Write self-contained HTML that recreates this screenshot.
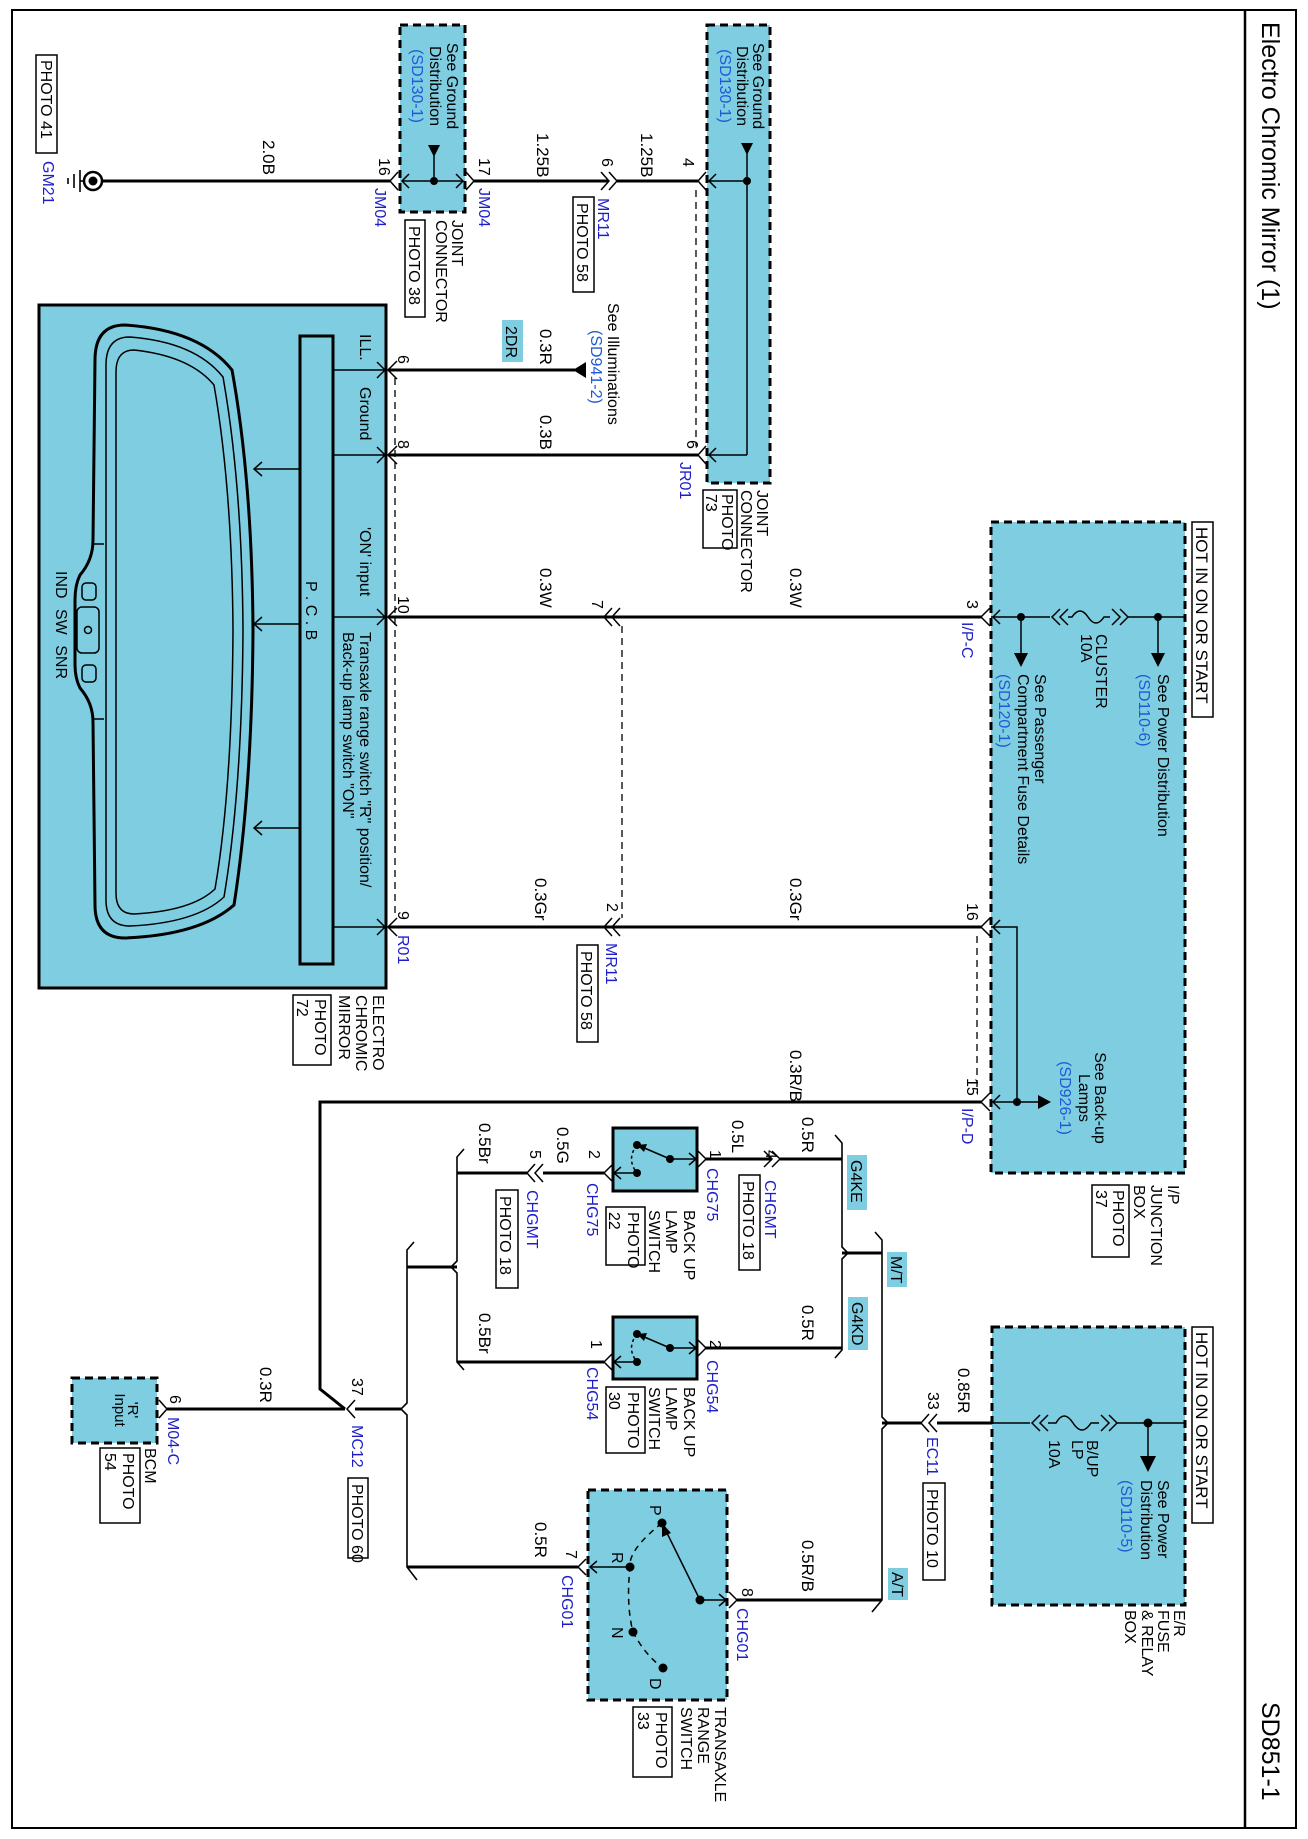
<!DOCTYPE html>
<html><head><meta charset="utf-8"><style>
html,body{margin:0;padding:0;background:#fff}
svg{display:block}
text{font-family:"Liberation Sans",Arial,sans-serif;font-size:17px;fill:#000}
.b{fill:#1e1ec8;font-size:16px}
.s{font-size:16px}
.sb{fill:#1e5ad8;font-size:16px}
.w{stroke:#000;stroke-width:3;fill:none}
.t{stroke:#000;stroke-width:1.6;fill:none}
.c{stroke:#000;stroke-width:1.5;fill:none}
.box{fill:#7fcde1;stroke:#000;stroke-width:3;stroke-dasharray:8 5}
.sbox{fill:#7fcde1;stroke:#000;stroke-width:3}
.lb{fill:none;stroke:#000;stroke-width:1.5}
.tag{fill:#7fcde1}
.d{stroke:#000;stroke-width:1.3;fill:none;stroke-dasharray:7 5}
</style></head><body>
<svg width="1308" height="1839" viewBox="0 0 1308 1839" xmlns="http://www.w3.org/2000/svg">
<rect x="12" y="10" width="1284" height="1818" fill="none" stroke="#000" stroke-width="2"/>
<line x1="1245" y1="10" x2="1245" y2="1828" stroke="#000" stroke-width="2.5"/>
<text transform="translate(1262 22) rotate(90)" style="font-size:25px">Electro Chromic Mirror (1)</text>
<text transform="translate(1262 1702) rotate(90)" style="font-size:25px">SD851-1</text>

<rect x="36" y="55" width="21" height="98" class="lb"/>
<text transform="translate(41 60) rotate(90)" class="s">PHOTO 41</text>
<text transform="translate(43 161) rotate(90)" class="b">GM21</text>
<circle cx="93" cy="181" r="9" fill="#fff" stroke="#000" stroke-width="2.5"/>
<circle cx="93" cy="181" r="4.5" fill="#000"/>
<line x1="84" y1="181" x2="80" y2="181" class="t"/>
<line x1="80" y1="170" x2="80" y2="192" class="t"/>
<line x1="74" y1="174" x2="74" y2="188" class="t"/>
<line x1="68" y1="178" x2="68" y2="184" class="t"/>
<line x1="102" y1="181" x2="390" y2="181" class="w"/>
<text transform="translate(263 140) rotate(90)">2.0B</text>
<text transform="translate(379 158) rotate(90)" class="s">16</text>
<text transform="translate(375 188) rotate(90)" class="b">JM04</text>

<rect x="400" y="25" width="65" height="187" class="box"/>
<text transform="translate(447 86) rotate(90)" class="s" text-anchor="middle">See Ground</text>
<text transform="translate(430 86) rotate(90)" class="s" text-anchor="middle">Distribution</text>
<text transform="translate(412 86) rotate(90)" class="sb" text-anchor="middle">(SD130-1)</text>
<polygon points="428,145 440,145 434,157" fill="#000"/>
<line x1="434" y1="155" x2="434" y2="181" class="c"/>
<circle cx="434" cy="181" r="4" fill="#000"/>
<line x1="402" y1="181" x2="463" y2="181" class="c"/>
<polyline points="409,174 402,181 409,188" class="c"/>
<polyline points="456,174 463,181 456,188" class="c"/>
<polyline points="398,172 390,181 398,190" class="c"/>
<polyline points="466,172 474,181 466,190" class="c"/>
<text transform="translate(479 158) rotate(90)" class="s">17</text>
<text transform="translate(479 188) rotate(90)" class="b">JM04</text>
<text transform="translate(452 220) rotate(90)" class="s">JOINT</text>
<text transform="translate(436 220) rotate(90)" class="s">CONNECTOR</text>
<rect x="405" y="220" width="20" height="97" class="lb"/>
<text transform="translate(409 226) rotate(90)" class="s">PHOTO 38</text>

<line x1="474" y1="181" x2="608" y2="181" class="w"/>
<text transform="translate(537 133) rotate(90)">1.25B</text>
<polyline points="601,172 609,181 601,190" class="c"/>
<polyline points="609,172 617,181 609,190" class="c"/>
<text transform="translate(602 158) rotate(90)" class="s">6</text>
<text transform="translate(598 198) rotate(90)" class="b">MR11</text>
<rect x="573" y="197" width="21" height="95" class="lb"/>
<text transform="translate(577 203) rotate(90)" class="s">PHOTO 58</text>
<line x1="617" y1="181" x2="698" y2="181" class="w"/>
<text transform="translate(641 133) rotate(90)">1.25B</text>
<text transform="translate(683 158) rotate(90)" class="s">4</text>

<rect x="707" y="25" width="63" height="458" class="box"/>
<text transform="translate(753 86) rotate(90)" class="s" text-anchor="middle">See Ground</text>
<text transform="translate(737 86) rotate(90)" class="s" text-anchor="middle">Distribution</text>
<text transform="translate(720 86) rotate(90)" class="sb" text-anchor="middle">(SD130-1)</text>
<polygon points="741,143 753,143 747,155" fill="#000"/>
<line x1="747" y1="153" x2="747" y2="455" class="c"/>
<circle cx="747" cy="181" r="4" fill="#000"/>
<line x1="709" y1="181" x2="747" y2="181" class="c"/>
<line x1="709" y1="455" x2="747" y2="455" class="c"/>
<polyline points="716,174 709,181 716,188" class="c"/>
<polyline points="716,448 709,455 716,462" class="c"/>
<polyline points="706,172 698,181 706,190" class="c"/>
<polyline points="706,446 698,455 706,464" class="c"/>
<line x1="696" y1="190" x2="696" y2="446" class="d"/>
<text transform="translate(687 440) rotate(90)" class="s">6</text>
<text transform="translate(680 462) rotate(90)" class="b">JR01</text>
<text transform="translate(757 490) rotate(90)" class="s">JOINT</text>
<text transform="translate(741 490) rotate(90)" class="s">CONNECTOR</text>
<rect x="703" y="490" width="34" height="58" class="lb"/>
<text transform="translate(722 494) rotate(90)" class="s">PHOTO</text>
<text transform="translate(706 494) rotate(90)" class="s">73</text>

<rect x="39" y="305" width="347" height="683" class="sbox"/>
<rect x="300" y="336" width="33" height="628" fill="#7fcde1" stroke="#000" stroke-width="3"/>
<text transform="translate(306 581) rotate(90)" class="s">P . C . B</text>
<path d="M125 325 Q95 325 95 360 L93 540 Q93 560 80 575 Q75 585 75 600 L75 665 Q75 678 80 688 Q93 703 93 722 L95 905 Q95 938 125 938 Q200 935 234 905 Q252 790 253 630 Q252 480 232 370 Q200 330 125 325 Z" fill="none" stroke="#000" stroke-width="3"/>
<path d="M130 337 Q106 337 106 365 L106 900 Q106 926 130 926 Q196 923 224 897 Q242 790 243 630 Q242 484 223 377 Q195 342 130 337 Z" class="c"/>
<path d="M134 350 Q116 350 116 372 L116 893 Q116 914 134 914 Q192 911 215 889 Q232 790 233 630 Q232 488 214 385 Q190 356 134 350 Z" class="c"/>
<line x1="93" y1="544" x2="104" y2="544" class="c"/>
<line x1="93" y1="719" x2="104" y2="719" class="c"/>
<rect x="82" y="583" width="14" height="17" rx="4" class="c"/>
<rect x="77" y="607" width="22" height="46" rx="5" class="c"/>
<circle cx="88" cy="630" r="3.5" class="c"/>
<rect x="82" y="665" width="14" height="17" rx="4" class="c"/>
<text transform="translate(56 571) rotate(90)" class="s" style="word-spacing:6px">IND SW SNR</text>
<line x1="300" y1="469" x2="254" y2="469" class="c"/><polyline points="262,462 254,469 262,476" class="c"/>
<line x1="300" y1="624" x2="254" y2="624" class="c"/><polyline points="262,617 254,624 262,631" class="c"/>
<line x1="300" y1="828" x2="254" y2="828" class="c"/><polyline points="262,821 254,828 262,835" class="c"/>
<g class="c">
<line x1="333" y1="370" x2="385" y2="370"/><polyline points="377,362 385,370 377,378"/>
<line x1="333" y1="455" x2="385" y2="455"/><polyline points="377,447 385,455 377,463"/>
<line x1="333" y1="617" x2="385" y2="617"/><polyline points="377,609 385,617 377,625"/>
<line x1="333" y1="927" x2="385" y2="927"/><polyline points="377,919 385,927 377,935"/>
<polyline points="397,361 388,370 397,379"/>
<polyline points="397,446 388,455 397,464"/>
<polyline points="397,608 388,617 397,626"/>
<polyline points="397,918 388,927 397,936"/>
</g>
<line x1="395" y1="378" x2="395" y2="918" class="d"/>
<text transform="translate(360 334) rotate(90)" class="s">ILL.</text>
<text transform="translate(360 387) rotate(90)" class="s">Ground</text>
<text transform="translate(360 527) rotate(90)" class="s">'ON' input</text>
<text transform="translate(360 632) rotate(90)" class="s">Transaxle range switch "R" position/</text>
<text transform="translate(343 632) rotate(90)" class="s">Back-up lamp switch "ON"</text>
<text transform="translate(373 995) rotate(90)" class="s">ELECTRO</text>
<text transform="translate(356 995) rotate(90)" class="s">CHROMIC</text>
<text transform="translate(339 995) rotate(90)" class="s">MIRROR</text>
<rect x="293" y="995" width="38" height="70" class="lb"/>
<text transform="translate(315 999) rotate(90)" class="s">PHOTO</text>
<text transform="translate(297 999) rotate(90)" class="s">72</text>

<text transform="translate(398 355) rotate(90)" class="s">6</text>
<text transform="translate(398 440) rotate(90)" class="s">8</text>
<text transform="translate(398 596) rotate(90)" class="s">10</text>
<text transform="translate(398 911) rotate(90)" class="s">9</text>
<text transform="translate(398 935) rotate(90)" class="b">R01</text>

<line x1="388" y1="370" x2="575" y2="370" class="w"/>
<polygon points="573,370 586,362 586,378" fill="#000"/>
<rect x="502" y="320" width="21" height="42" class="tag"/>
<text transform="translate(506 326) rotate(90)" class="s">2DR</text>
<text transform="translate(540 329) rotate(90)">0.3R</text>
<text transform="translate(608 303) rotate(90)" class="s">See Illuminations</text>
<text transform="translate(591 330) rotate(90)" class="sb">(SD941-2)</text>

<line x1="388" y1="455" x2="698" y2="455" class="w"/>
<text transform="translate(540 415) rotate(90)">0.3B</text>

<line x1="388" y1="617" x2="982" y2="617" class="w"/>
<text transform="translate(540 568) rotate(90)">0.3W</text>
<text transform="translate(790 568) rotate(90)">0.3W</text>
<polyline points="612,608 604,617 612,626" class="c" stroke-width="2"/>
<polyline points="620,608 612,617 620,626" class="c" stroke-width="2"/>
<text transform="translate(592 600) rotate(90)" class="s">7</text>
<line x1="622" y1="626" x2="622" y2="918" class="d"/>

<line x1="388" y1="927" x2="982" y2="927" class="w"/>
<text transform="translate(535 878) rotate(90)">0.3Gr</text>
<text transform="translate(790 878) rotate(90)">0.3Gr</text>
<polyline points="612,918 604,927 612,936" class="c" stroke-width="2"/>
<polyline points="620,918 612,927 620,936" class="c" stroke-width="2"/>
<text transform="translate(607 903) rotate(90)" class="s">2</text>
<text transform="translate(606 943) rotate(90)" class="b">MR11</text>
<rect x="577" y="945" width="21" height="97" class="lb"/>
<text transform="translate(581 951) rotate(90)" class="s">PHOTO 58</text>

<polyline points="982,1102 320,1102 320,1389 345,1409" class="w"/>
<text transform="translate(790 1050) rotate(90)">0.3R/B</text>

<rect x="991" y="522" width="194" height="651" class="box"/>
<rect x="1192" y="522" width="21" height="195" class="lb"/>
<text transform="translate(1196 527) rotate(90)">HOT IN ON OR START</text>
<g class="c">
<polyline points="991,617 1021,617 1021,655"/>
<polyline points="1000,610 993,617 1000,624"/>
<line x1="1021" y1="617" x2="1050" y2="617"/>
<polyline points="1060,609 1052,617 1060,625"/><polyline points="1068,609 1060,617 1068,625"/>
<path d="M1068 617 L1072 617 Q1080 605 1088 617 Q1096 629 1104 617 L1110 617"/>
<polyline points="1112,609 1120,617 1112,625"/><polyline points="1120,609 1128,617 1120,625"/>
<line x1="1128" y1="617" x2="1185" y2="617"/>
<line x1="1158" y1="617" x2="1158" y2="655"/>
</g>
<circle cx="1021" cy="617" r="4" fill="#000"/>
<circle cx="1158" cy="617" r="4" fill="#000"/>
<polygon points="1014,653 1028,653 1021,667" fill="#000"/>
<polygon points="1151,653 1165,653 1158,667" fill="#000"/>
<text transform="translate(1096 634) rotate(90)" class="s">CLUSTER</text>
<text transform="translate(1081 634) rotate(90)" class="s">10A</text>
<text transform="translate(1158 674) rotate(90)" class="s">See Power Distribution</text>
<text transform="translate(1139 674) rotate(90)" class="sb">(SD110-6)</text>
<text transform="translate(1035 674) rotate(90)" class="s">See Passenger</text>
<text transform="translate(1018 674) rotate(90)" class="s">Compartment Fuse Details</text>
<text transform="translate(999 674) rotate(90)" class="sb">(SD120-1)</text>
<polyline points="990,608 981,617 990,626" class="c"/>
<text transform="translate(967 600) rotate(90)" class="s">3</text>
<text transform="translate(962 622) rotate(90)" class="b">I/P-C</text>
<g class="c">
<polyline points="991,927 1017,927 1017,1102"/>
<polyline points="1000,920 993,927 1000,934"/>
<line x1="991" y1="1102" x2="1040" y2="1102"/>
<polyline points="1000,1095 993,1102 1000,1109"/>
<polyline points="990,918 981,927 990,936"/>
<polyline points="990,1093 981,1102 990,1111"/>
</g>
<circle cx="1017" cy="1102" r="4" fill="#000"/>
<polygon points="1038,1095 1038,1109 1051,1102" fill="#000"/>
<line x1="977" y1="936" x2="977" y2="1093" class="d"/>
<text transform="translate(967 903) rotate(90)" class="s">16</text>
<text transform="translate(967 1078) rotate(90)" class="s">15</text>
<text transform="translate(962 1108) rotate(90)" class="b">I/P-D</text>
<text transform="translate(1095 1098) rotate(90)" class="s" text-anchor="middle">See Back-up</text>
<text transform="translate(1079 1098) rotate(90)" class="s" text-anchor="middle">Lamps</text>
<text transform="translate(1060 1098) rotate(90)" class="sb" text-anchor="middle">(SD926-1)</text>
<text transform="translate(1168 1185) rotate(90)" class="s">I/P</text>
<text transform="translate(1151 1185) rotate(90)" class="s">JUNCTION</text>
<text transform="translate(1134 1185) rotate(90)" class="s">BOX</text>
<rect x="1092" y="1185" width="37" height="72" class="lb"/>
<text transform="translate(1113 1190) rotate(90)" class="s">PHOTO</text>
<text transform="translate(1096 1190) rotate(90)" class="s">37</text>

<rect x="992" y="1327" width="193" height="278" class="box"/>
<rect x="1192" y="1327" width="21" height="196" class="lb"/>
<text transform="translate(1196 1332) rotate(90)">HOT IN ON OR START</text>
<g class="c">
<line x1="992" y1="1423" x2="1030" y2="1423"/>
<polyline points="1040,1415 1032,1423 1040,1431"/><polyline points="1048,1415 1040,1423 1048,1431"/>
<path d="M1048 1423 L1056 1423 Q1064 1409 1073 1423 Q1082 1437 1091 1423 L1099 1423"/>
<polyline points="1101,1415 1109,1423 1101,1431"/><polyline points="1109,1415 1117,1423 1109,1431"/>
<line x1="1117" y1="1423" x2="1185" y2="1423"/>
<line x1="1148" y1="1423" x2="1148" y2="1458"/>
</g>
<circle cx="1148" cy="1423" r="4.5" fill="#000"/>
<polygon points="1140,1456 1156,1456 1148,1472" fill="#000"/>
<text transform="translate(1087 1440) rotate(90)" class="s">B/UP</text>
<text transform="translate(1072 1440) rotate(90)" class="s">LP</text>
<text transform="translate(1049 1440) rotate(90)" class="s">10A</text>
<text transform="translate(1158 1480) rotate(90)" class="s">See Power</text>
<text transform="translate(1141 1480) rotate(90)" class="s">Distribution</text>
<text transform="translate(1121 1480) rotate(90)" class="sb">(SD110-5)</text>
<text transform="translate(1174 1610) rotate(90)" class="s">E/R</text>
<text transform="translate(1158 1610) rotate(90)" class="s">FUSE</text>
<text transform="translate(1142 1610) rotate(90)" class="s">&amp; RELAY</text>
<text transform="translate(1125 1610) rotate(90)" class="s">BOX</text>
<line x1="937" y1="1423" x2="992" y2="1423" class="w"/>
<polyline points="929,1414 921,1423 929,1432" class="c" stroke-width="2"/>
<polyline points="937,1414 929,1423 937,1432" class="c" stroke-width="2"/>
<line x1="882" y1="1423" x2="921" y2="1423" class="w"/>
<text transform="translate(958 1368) rotate(90)">0.85R</text>
<text transform="translate(928 1392) rotate(90)" class="s">33</text>
<text transform="translate(927 1437) rotate(90)" class="b">EC11</text>
<rect x="923" y="1483" width="22" height="97" class="lb"/>
<text transform="translate(927 1489) rotate(90)" class="s">PHOTO 10</text>

<g class="t">
<polyline points="835,1135 842,1143 842,1247 848,1253 842,1259 842,1350 835,1358"/>
<polyline points="875,1232 882,1240 882,1417 888,1423 882,1429 882,1600 872,1612"/>
<polyline points="464,1149 457,1157 457,1261 451,1267 457,1273 457,1362 464,1370"/>
<polyline points="414,1242 407,1250 407,1403 401,1409 407,1415 407,1567 417,1580"/>
</g>
<line x1="842" y1="1253" x2="882" y2="1253" class="w"/>
<line x1="407" y1="1267" x2="457" y2="1267" class="w"/>
<rect x="847" y="1155" width="20" height="55" class="tag"/>
<text transform="translate(851 1160) rotate(90)" class="s">G4KE</text>
<rect x="887" y="1252" width="20" height="35" class="tag"/>
<text transform="translate(891 1256) rotate(90)" class="s">M/T</text>
<rect x="848" y="1297" width="20" height="53" class="tag"/>
<text transform="translate(852 1302) rotate(90)" class="s">G4KD</text>
<rect x="888" y="1568" width="20" height="32" class="tag"/>
<text transform="translate(892 1572) rotate(90)" class="s">A/T</text>

<line x1="780" y1="1159" x2="842" y2="1159" class="w"/>
<text transform="translate(802 1117) rotate(90)">0.5R</text>
<polyline points="764,1151 772,1159 764,1167" class="c" stroke-width="2"/>
<polyline points="772,1151 780,1159 772,1167" class="c" stroke-width="2"/>
<line x1="705" y1="1159" x2="772" y2="1159" class="w"/>
<text transform="translate(732 1120) rotate(90)">0.5L</text>
<text transform="translate(766 1150) rotate(90)" class="s">4</text>
<text transform="translate(765 1180) rotate(90)" class="b">CHGMT</text>
<rect x="739" y="1175" width="21" height="95" class="lb"/>
<text transform="translate(743 1181) rotate(90)" class="s">PHOTO 18</text>
<text transform="translate(710 1150) rotate(90)" class="s">1</text>
<text transform="translate(707 1168) rotate(90)" class="b">CHG75</text>
<rect x="613" y="1128" width="84" height="63" class="sbox"/>
<g class="c">
<line x1="670" y1="1159" x2="696" y2="1159"/><polyline points="689,1153 696,1159 689,1165"/>
<line x1="637" y1="1173" x2="614" y2="1173"/><polyline points="621,1167 614,1173 621,1179"/>
<polyline points="698,1151 706,1159 698,1167"/>
<polyline points="612,1165 604,1173 612,1181"/>
<path d="M637 1145 Q626 1159 637 1173" stroke-dasharray="3 3"/>
<line x1="670" y1="1159" x2="642" y2="1147"/>
</g>
<polygon points="637,1145 647,1144 644,1152" fill="#000"/>
<circle cx="637" cy="1145" r="4" fill="#000"/>
<circle cx="670" cy="1159" r="4" fill="#000"/>
<circle cx="637" cy="1173" r="4" fill="#000"/>
<text transform="translate(684 1210) rotate(90)" class="s">BACK UP</text>
<text transform="translate(666 1210) rotate(90)" class="s">LAMP</text>
<text transform="translate(649 1210) rotate(90)" class="s">SWITCH</text>
<rect x="606" y="1207" width="39" height="58" class="lb"/>
<text transform="translate(628 1212) rotate(90)" class="s">PHOTO</text>
<text transform="translate(609 1212) rotate(90)" class="s">22</text>
<text transform="translate(589 1150) rotate(90)" class="s">2</text>
<text transform="translate(587 1183) rotate(90)" class="b">CHG75</text>
<line x1="543" y1="1173" x2="604" y2="1173" class="w"/>
<polyline points="535,1164 527,1173 535,1182" class="c" stroke-width="2"/>
<polyline points="543,1164 535,1173 543,1182" class="c" stroke-width="2"/>
<line x1="457" y1="1173" x2="527" y2="1173" class="w"/>
<text transform="translate(557 1127) rotate(90)">0.5G</text>
<text transform="translate(530 1150) rotate(90)" class="s">5</text>
<text transform="translate(527 1190) rotate(90)" class="b">CHGMT</text>
<rect x="496" y="1190" width="22" height="98" class="lb"/>
<text transform="translate(500 1196) rotate(90)" class="s">PHOTO 18</text>
<text transform="translate(479 1123) rotate(90)">0.5Br</text>

<line x1="705" y1="1348" x2="842" y2="1348" class="w"/>
<text transform="translate(802 1305) rotate(90)">0.5R</text>
<text transform="translate(710 1340) rotate(90)" class="s">2</text>
<text transform="translate(707 1360) rotate(90)" class="b">CHG54</text>
<rect x="613" y="1317" width="84" height="62" class="sbox"/>
<g class="c">
<line x1="670" y1="1348" x2="696" y2="1348"/><polyline points="689,1342 696,1348 689,1354"/>
<line x1="637" y1="1362" x2="614" y2="1362"/><polyline points="621,1356 614,1362 621,1368"/>
<polyline points="698,1340 706,1348 698,1356"/>
<polyline points="612,1354 604,1362 612,1370"/>
<path d="M637 1334 Q626 1348 637 1362" stroke-dasharray="3 3"/>
<line x1="670" y1="1348" x2="642" y2="1336"/>
</g>
<polygon points="637,1334 647,1333 644,1341" fill="#000"/>
<circle cx="637" cy="1334" r="4" fill="#000"/>
<circle cx="670" cy="1348" r="4" fill="#000"/>
<circle cx="637" cy="1362" r="4" fill="#000"/>
<text transform="translate(684 1387) rotate(90)" class="s">BACK UP</text>
<text transform="translate(666 1387) rotate(90)" class="s">LAMP</text>
<text transform="translate(649 1387) rotate(90)" class="s">SWITCH</text>
<rect x="606" y="1387" width="39" height="66" class="lb"/>
<text transform="translate(628 1392) rotate(90)" class="s">PHOTO</text>
<text transform="translate(609 1392) rotate(90)" class="s">30</text>
<text transform="translate(591 1340) rotate(90)" class="s">1</text>
<text transform="translate(587 1367) rotate(90)" class="b">CHG54</text>
<line x1="457" y1="1362" x2="604" y2="1362" class="w"/>
<text transform="translate(479 1313) rotate(90)">0.5Br</text>

<rect x="588" y="1490" width="139" height="210" class="box"/>
<line x1="737" y1="1600" x2="882" y2="1600" class="w"/>
<text transform="translate(802 1540) rotate(90)">0.5R/B</text>
<g class="c">
<polyline points="729,1592 737,1600 729,1608"/>
<line x1="700" y1="1600" x2="726" y2="1600"/><polyline points="719,1594 726,1600 719,1606"/>
<line x1="700" y1="1600" x2="666" y2="1531"/>
<line x1="630" y1="1567" x2="590" y2="1567"/><polyline points="597,1561 590,1567 597,1573"/>
<polyline points="586,1559 578,1567 586,1575"/>
<path d="M662 1523 Q628 1550 630 1567 Q626 1605 633 1632 Q645 1655 663 1668" stroke-dasharray="6 5"/>
</g>
<polygon points="662,1523 662,1537 671,1533" fill="#000"/>
<circle cx="662" cy="1523" r="4.5" fill="#000"/>
<circle cx="630" cy="1567" r="4.5" fill="#000"/>
<circle cx="633" cy="1632" r="4.5" fill="#000"/>
<circle cx="663" cy="1668" r="4.5" fill="#000"/>
<circle cx="700" cy="1600" r="4.5" fill="#000"/>
<text transform="translate(650 1505) rotate(90)" class="s">P</text>
<text transform="translate(612 1552) rotate(90)" class="s">R</text>
<text transform="translate(612 1627) rotate(90)" class="s">N</text>
<text transform="translate(650 1678) rotate(90)" class="s">D</text>
<text transform="translate(742 1588) rotate(90)" class="s">8</text>
<text transform="translate(737 1608) rotate(90)" class="b">CHG01</text>
<line x1="407" y1="1567" x2="578" y2="1567" class="w"/>
<text transform="translate(535 1522) rotate(90)">0.5R</text>
<text transform="translate(566 1550) rotate(90)" class="s">7</text>
<text transform="translate(562 1575) rotate(90)" class="b">CHG01</text>
<text transform="translate(715 1707) rotate(90)" class="s">TRANSAXLE</text>
<text transform="translate(698 1707) rotate(90)" class="s">RANGE</text>
<text transform="translate(681 1707) rotate(90)" class="s">SWITCH</text>
<rect x="633" y="1707" width="39" height="70" class="lb"/>
<text transform="translate(656 1712) rotate(90)" class="s">PHOTO</text>
<text transform="translate(638 1712) rotate(90)" class="s">33</text>

<rect x="72" y="1378" width="85" height="65" class="box"/>
<text transform="translate(128 1410) rotate(90)" style="font-size:15px" text-anchor="middle">'R'</text>
<text transform="translate(115 1410) rotate(90)" style="font-size:15px" text-anchor="middle">Input</text>
<polyline points="159,1400 167,1409 159,1418" class="c" stroke-width="2"/>
<line x1="167" y1="1409" x2="345" y2="1409" class="w"/>
<polyline points="355,1400 347,1409 355,1418" class="c" stroke-width="2"/>
<line x1="355" y1="1409" x2="401" y2="1409" class="w"/>
<text transform="translate(170 1395) rotate(90)" class="s">6</text>
<text transform="translate(168 1417) rotate(90)" class="b">M04-C</text>
<text transform="translate(260 1367) rotate(90)">0.3R</text>
<text transform="translate(145 1448) rotate(90)" class="s">BCM</text>
<rect x="100" y="1448" width="40" height="75" class="lb"/>
<text transform="translate(123 1453) rotate(90)" class="s">PHOTO</text>
<text transform="translate(105 1453) rotate(90)" class="s">54</text>
<text transform="translate(352 1378) rotate(90)" class="s">37</text>
<text transform="translate(352 1425) rotate(90)" class="b">MC12</text>
<rect x="348" y="1478" width="20" height="80" class="lb"/>
<text transform="translate(352 1484) rotate(90)" class="s">PHOTO 60</text>
</svg>
</body></html>
